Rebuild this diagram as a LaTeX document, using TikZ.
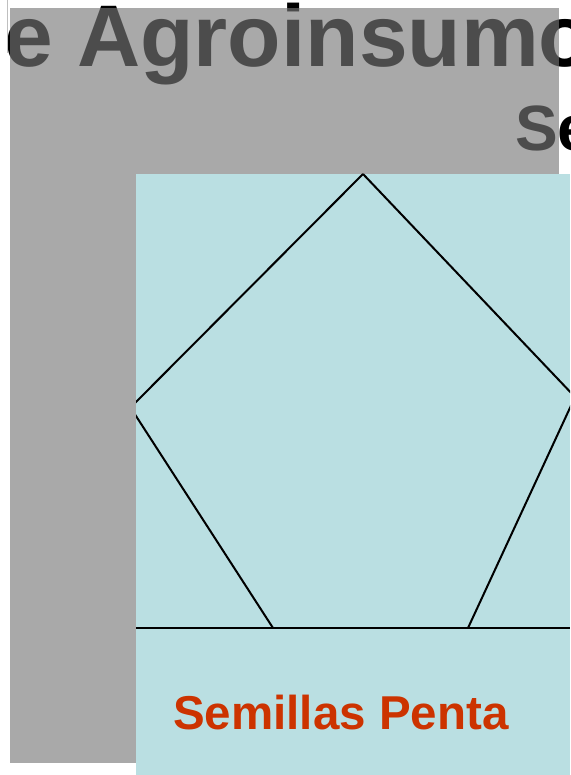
\documentclass[tikz,border=0pt]{standalone}
\usepackage{fontspec}
\setmainfont{Liberation Sans}
\usetikzlibrary{positioning}
\definecolor{agroblue}{RGB}{186,223,226}
\definecolor{pentared}{RGB}{204,51,0}
\tikzset{edge/.style={draw=black, line width=2pt, line join=miter},
  titletext/.style={anchor=base west, inner sep=0pt, font=\bfseries\fontsize{#1}{#1}\selectfont}}
\newcommand{\pentaside}[2]{\draw[edge] (#1) -- (#2);}

\begin{document}
\begin{tikzpicture}[x=1pt,y=-1pt]
\useasboundingbox (0,0) rectangle (570,775);
\clip (0,0) rectangle (570,775);
% titles behind the grey band
\node[titletext=87.5] (title) at (4,67) {e Agroinsumo};
\node[titletext=64] (subtitle) at (515,151) {Se};
\coordinate (rule top) at (7,0);
\coordinate (rule bottom) at (7,53);
\draw[black!25, line width=1pt] (rule top) -- (rule bottom);
% grey band
\fill[black!53, opacity=0.64] (10,8) rectangle (559,763);
% blue panel
\fill[agroblue] (136,174) rectangle (570,775);
\begin{scope}
\clip (136,174) rectangle (570,775);
\coordinate (top) at (363,174);
\coordinate (right) at (575,397);
\coordinate (lowright) at (468,628);
\coordinate (lowleft) at (273,628);
\coordinate (left) at (130.5,407.5);
\pentaside{top}{right}
\pentaside{right}{lowright}
\pentaside{lowright}{lowleft}
\pentaside{lowleft}{left}
\pentaside{left}{top}
\end{scope}
\coordinate (base west) at (136,628);
\coordinate (base east) at (570,628);
\draw[edge] (base west) -- (base east);
\node[anchor=base west, inner sep=0pt, text=pentared, font=\bfseries\fontsize{47.5}{47.5}\selectfont] (brand) at (173,729) {Semillas Penta};
\end{tikzpicture}
\end{document}
